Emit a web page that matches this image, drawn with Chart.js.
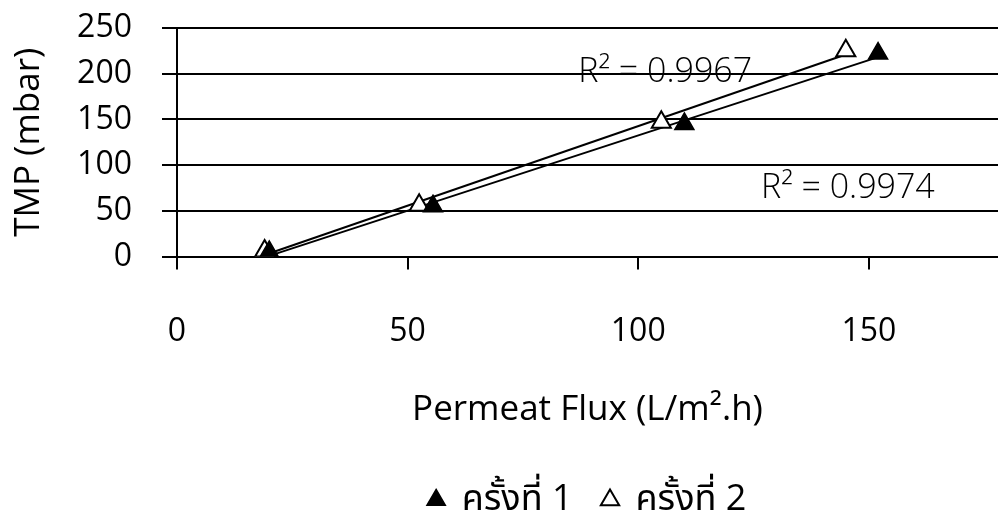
<!DOCTYPE html>
<html>
<head>
<meta charset="utf-8">
<script src="https://cdn.jsdelivr.net/npm/chart.js@4.4.1/dist/chart.umd.min.js"></script>
<style>
  html, body { margin: 0; padding: 0; background: #fff; }
  #wrap { width: 998px; height: 515px; }
</style>
</head>
<body>
<div id="wrap"><canvas id="c" width="998" height="515"></canvas></div>
<script>
// Two runs of the membrane test: permeate flux (L/m².h) against TMP (mbar)
const seriesNames = ['ครั้งที่ 1', 'ครั้งที่ 2'];
const flux1 = [20, 55.5, 110, 152];
const tmp1  = [5, 55, 145, 222];
const flux2 = [19, 52.5, 105, 145];
const tmp2  = [6, 56, 147, 225];
const xTicks = [0, 50, 100, 150];
const yTicks = [0, 50, 100, 150, 200, 250];
const r2Text = ['R² = 0.9967', 'R² = 0.9974'];

const FONT = "'Open Sans', 'Noto Sans Thai', 'Noto Sans', sans-serif";

function toPoints(xs, ys) {
  return xs.map((x, i) => ({ x: x, y: ys[i] }));
}

// Least-squares straight line across the range of a series
function fitLine(xs, ys) {
  const n = xs.length;
  const mx = xs.reduce((a, b) => a + b, 0) / n;
  const my = ys.reduce((a, b) => a + b, 0) / n;
  let sxy = 0, sxx = 0;
  for (let i = 0; i < n; i++) {
    sxy += (xs[i] - mx) * (ys[i] - my);
    sxx += (xs[i] - mx) * (xs[i] - mx);
  }
  const slope = sxy / sxx;
  const icpt = my - slope * mx;
  const x0 = Math.min(...xs), x1 = Math.max(...xs);
  return [{ x: x0, y: icpt + slope * x0 }, { x: x1, y: icpt + slope * x1 }];
}

// R² annotations anchored in data units
const r2Anchors = [{ x: 87, y: 201 }, { x: 126.6, y: 74.5 }];
const r2Plugin = {
  id: 'r2Labels',
  afterDatasetsDraw(chart) {
    const { ctx, scales } = chart;
    ctx.save();
    ctx.font = "300 34px " + FONT;
    ctx.fillStyle = '#000';
    ctx.textAlign = 'left';
    ctx.textBaseline = 'middle';
    r2Text.forEach((t, i) => {
      ctx.fillText(t, scales.x.getPixelForValue(r2Anchors[i].x), scales.y.getPixelForValue(r2Anchors[i].y));
    });
    ctx.restore();
  }
};

new Chart(document.getElementById('c'), {
  type: 'scatter',
  data: {
    datasets: [
      {
        label: seriesNames[0],
        data: toPoints(flux1, tmp1),
        pointStyle: 'triangle',
        pointRadius: 11,
        pointBackgroundColor: '#000',
        pointBorderColor: '#000',
        pointBorderWidth: 1.5,
        order: 1
      },
      {
        label: seriesNames[1],
        data: toPoints(flux2, tmp2),
        pointStyle: 'triangle',
        pointRadius: 11,
        pointBackgroundColor: '#fff',
        pointBorderColor: '#000',
        pointBorderWidth: 2,
        order: 1
      },
      {
        label: 'trend1',
        data: fitLine(flux1, tmp1),
        showLine: true,
        borderColor: '#000',
        borderWidth: 2,
        pointRadius: 0,
        order: 2
      },
      {
        label: 'trend2',
        data: fitLine(flux2, tmp2),
        showLine: true,
        borderColor: '#000',
        borderWidth: 2,
        pointRadius: 0,
        order: 2
      }
    ]
  },
  options: {
    responsive: false,
    animation: false,
    layout: { autoPadding: false, padding: { top: 28, right: 0, left: 0, bottom: -13 } },
    plugins: {
      tooltip: { enabled: false },
      legend: {
        position: 'bottom',
        fullSize: false,
        labels: {
          filter: (item) => item.datasetIndex < 2,
          usePointStyle: true,
          boxWidth: 15,
          boxHeight: 15,
          padding: 30,
          color: '#000',
          font: { family: FONT, size: 36 }
        }
      }
    },
    scales: {
      x: {
        type: 'linear',
        min: 0,
        max: 178,
        afterBuildTicks: (s) => { s.ticks = xTicks.map(v => ({ value: v })); },
        afterFit: (s) => { s.height = 195.5; s.paddingLeft = 0; s.paddingRight = 0; },
        grid: { drawOnChartArea: false, drawTicks: true, tickLength: 13, color: '#000', lineWidth: 2 },
        border: { display: true, color: '#000', width: 2 },
        ticks: { padding: 43, color: '#000', autoSkip: false, maxRotation: 0, font: { family: FONT, size: 32 } },
        title: {
          display: true,
          text: 'Permeat Flux (L/m².h)',
          color: '#000',
          font: { family: FONT, size: 35 },
          padding: { top: 0, bottom: 21 }
        }
      },
      y: {
        min: 0,
        max: 250,
        afterBuildTicks: (s) => { s.ticks = yTicks.map(v => ({ value: v })); },
        afterFit: (s) => { s.width = 177; s.paddingTop = 0; s.paddingBottom = 0; },
        grid: { color: '#000', lineWidth: 2, tickLength: 15 },
        border: { display: true, color: '#000', width: 2 },
        ticks: { padding: 30, color: '#000', autoSkip: false, font: { family: FONT, size: 32 } },
        title: {
          display: true,
          text: 'TMP (mbar)',
          color: '#000',
          font: { family: FONT, size: 35 },
          padding: { top: 8, bottom: 0 }
        }
      }
    }
  },
  plugins: [r2Plugin]
});
</script>
</body>
</html>
